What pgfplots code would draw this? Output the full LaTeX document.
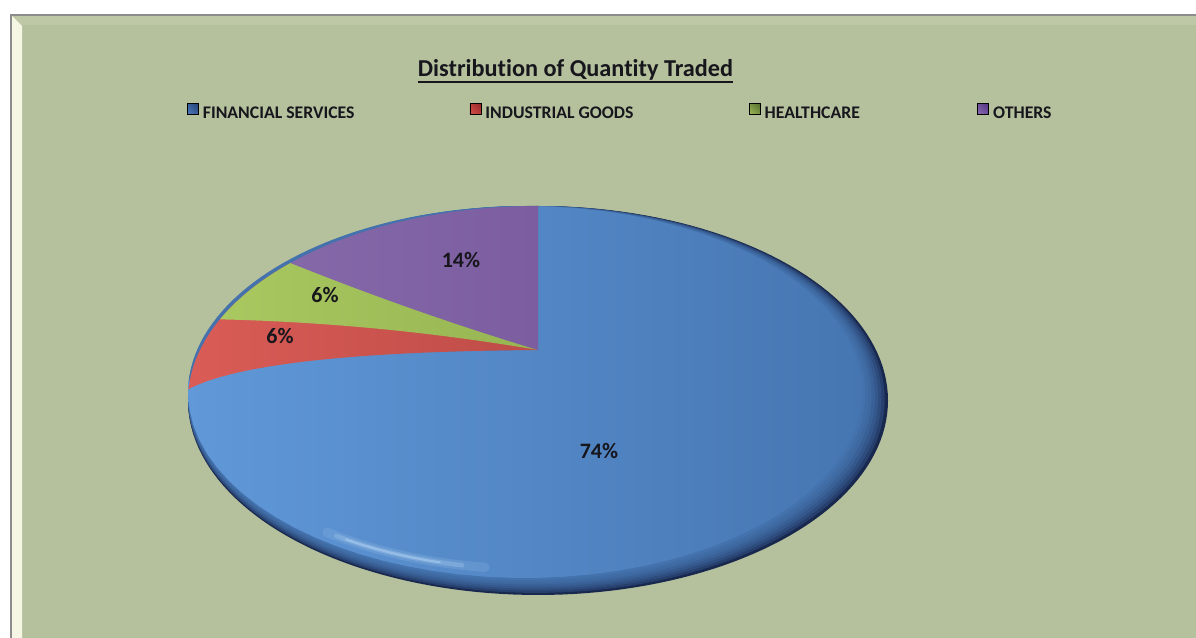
\documentclass[border=0pt]{standalone}
\usepackage{pgfplots}
\pgfplotsset{compat=1.18}
\usepackage{pgfplotstable}
\usetikzlibrary{shadings}
\usepackage{fontspec}
\setmainfont{Carlito}[Ligatures=NoCommon]

\definecolor{bg}{RGB}{181,192,157}
\definecolor{bgtop}{RGB}{190,200,167}
\definecolor{cream}{RGB}{246,246,228}
\definecolor{frame}{RGB}{140,140,140}
\definecolor{rim0}{RGB}{24,40,78}
\definecolor{blueL}{RGB}{96,152,216}
\definecolor{blueR}{RGB}{70,118,178}
\definecolor{hilite}{RGB}{205,232,255}
\definecolor{redL}{RGB}{218,92,86}
\definecolor{redR}{RGB}{190,76,72}
\definecolor{greenL}{RGB}{170,200,96}
\definecolor{greenR}{RGB}{150,180,82}
\definecolor{purpL}{RGB}{132,104,168}
\definecolor{purpR}{RGB}{124,94,160}
\definecolor{txt}{RGB}{22,22,28}
\definecolor{lgB1}{RGB}{80,125,190}\definecolor{lgB2}{RGB}{35,65,120}
\definecolor{lgR1}{RGB}{215,80,75}\definecolor{lgR2}{RGB}{150,40,40}
\definecolor{lgG1}{RGB}{160,190,90}\definecolor{lgG2}{RGB}{85,110,45}
\definecolor{lgP1}{RGB}{140,110,180}\definecolor{lgP2}{RGB}{80,50,130}

% shares (%) of quantity traded
\pgfplotstableread{
name value
FS 74
IG 6
HC 6
OT 14
}\piedata
\pgfplotstablegetelem{0}{value}\of\piedata \let\vFS\pgfplotsretval
\pgfplotstablegetelem{1}{value}\of\piedata \let\vIG\pgfplotsretval
\pgfplotstablegetelem{2}{value}\of\piedata \let\vHC\pgfplotsretval
\pgfplotstablegetelem{3}{value}\of\piedata \let\vOT\pgfplotsretval

% cumulative shares counter-clockwise from 12 o'clock, with perspective mapping to ellipse angle
\pgfmathsetmacro\cA{\vOT}
\pgfmathsetmacro\cB{\vOT+\vHC}
\pgfmathsetmacro\cC{\vOT+\vHC+\vIG}
\pgfmathsetmacro\tA{90+3.6*\cA-7*sin(3.6*\cA)}
\pgfmathsetmacro\tB{90+3.6*\cB-7*sin(3.6*\cB)}
\pgfmathsetmacro\tC{90+3.6*\cC-7*sin(3.6*\cC)}

% slice: ellipse (cx,cy,rx,ry), arc t1->t2, then quadratic curve to vertex (538,-350) with control (qx,qy)
\newcommand{\pieslice}[9]{%
  \addplot[#9, forget plot, domain=0:2, samples=121, variable=\s]
  ({\s<1.00001 ? (#1)+(#3)*cos((#5)+((#6)-(#5))*\s) : (2-\s)^2*((#1)+(#3)*cos(#6)) + 2*(2-\s)*(\s-1)*(#7) + (\s-1)^2*538},
   {\s<1.00001 ? (#2)+(#4)*sin((#5)+((#6)-(#5))*\s) : (2-\s)^2*((#2)+(#4)*sin(#6)) + 2*(2-\s)*(\s-1)*(#8) + (\s-1)^2*(-350)});
}
\newcommand{\fullellipse}[5]{%
  \addplot[fill=#5, draw=none, forget plot, domain=0:360, samples=181, variable=\t]
  ({(#1)+(#3)*cos(\t)},{(#2)+(#4)*sin(\t)});
}
\newcommand{\lgsq}[2]{\shade[lower left=#1, upper right=#2, lower right=#1!50!#2, upper left=#1!50!#2] (0pt,-0.7pt) rectangle (8.2pt,7.5pt);}

\begin{document}
\begin{tikzpicture}
\begin{axis}[
  scale only axis, width=897pt, height=478.5pt,
  xmin=0, xmax=1196, ymin=-638, ymax=0,
  hide axis, clip=true,
  legend columns=4,
  legend cell align=left,
  legend style={at={(0.1564,0.8245)}, anchor=west, draw=none, fill=none,
    inner sep=0pt, outer sep=0pt,
    nodes={inner sep=0pt, text=txt},
    font=\bfseries\fontsize{13.3}{16}\selectfont,
    /tikz/every odd column/.append style={column sep=3.3pt},
    /tikz/every even column/.append style={column sep=0pt}},
]
% background and frame
\fill[white] (axis cs:0,0) rectangle (axis cs:1196,-638);
\fill[bg] (axis cs:11,-15) rectangle (axis cs:1196,-638);
\fill[bgtop] (axis cs:12,-16) -- (axis cs:1196,-16) -- (axis cs:1196,-25) -- (axis cs:22,-25) -- cycle;
\fill[cream] (axis cs:12,-16) -- (axis cs:22,-26) -- (axis cs:22,-638) -- (axis cs:12,-638) -- cycle;
\draw[frame, line width=1.5pt] (axis cs:1196,-15) -- (axis cs:11,-15) -- (axis cs:11,-638);

% legend entries
\addlegendimage{legend image code/.code={\lgsq{lgB1}{lgB2}}}
\addlegendentry{\makebox[200pt][l]{FINANCIAL SERVICES}}
\addlegendimage{legend image code/.code={\lgsq{lgR1}{lgR2}}}
\addlegendentry{\makebox[197.5pt][l]{INDUSTRIAL GOODS}}
\addlegendimage{legend image code/.code={\lgsq{lgG1}{lgG2}}}
\addlegendentry{\makebox[159.5pt][l]{HEALTHCARE}}
\addlegendimage{legend image code/.code={\lgsq{lgP1}{lgP2}}}
\addlegendentry{OTHERS}

% 3D rim of the pie (soft dark edge)
\fullellipse{538}{-400.5}{350}{194.5}{rim0}
\fullellipse{536.375}{-399.44}{348.375}{193.44}{blueR!30!rim0}
\fullellipse{534.75}{-398.375}{346.75}{192.375}{blueR!48!rim0}
\fullellipse{533.125}{-397.31}{345.125}{191.31}{blueR!62!rim0}
\fullellipse{531.5}{-396.25}{343.5}{190.25}{blueR!73!rim0}
\fullellipse{529.875}{-395.19}{341.875}{189.19}{blueR!82!rim0}
\fullellipse{528.25}{-394.125}{340.25}{188.125}{blueR!89!rim0}
\fullellipse{526.625}{-393.06}{338.625}{187.06}{blueR!95!rim0}

% FINANCIAL SERVICES (rest of the pie, clockwise from top)
\pieslice{525}{-392}{337}{186}{450}{\tC}{260}{-352}{draw=none, left color=blueL, right color=blueR}
% soft highlight on lower left edge
\addplot[draw=hilite, opacity=0.12, line width=7pt, line cap=round, forget plot, domain=232:262, samples=40, variable=\t]
  ({531+331*cos(\t)},{-396+173*sin(\t)});
\addplot[draw=hilite, opacity=0.22, line width=3.5pt, line cap=round, forget plot, domain=234:258, samples=40, variable=\t]
  ({531+331*cos(\t)},{-396+173*sin(\t)});
\addplot[draw=hilite, opacity=0.35, line width=1.5pt, line cap=round, forget plot, domain=236:254, samples=40, variable=\t]
  ({531+331*cos(\t)},{-396+173*sin(\t)});
% INDUSTRIAL GOODS (drawn generously, covered by the next slices)
\pieslice{538}{-400.5}{350}{194.5}{\tA}{\tC}{260}{-352}{draw=none, left color=redL, right color=redR}
% HEALTHCARE
\pieslice{538}{-400.5}{350}{194.5}{\tA}{\tB}{379}{-323}{draw=none, left color=greenL, right color=greenR}
% OTHERS
\pieslice{538}{-400.5}{350}{194.5}{90}{\tA}{414}{-312.5}{draw=none, left color=purpL, right color=purpR}

% title
\node (T) [anchor=base, inner sep=0pt, text=txt] at (axis cs:575.5,-77)
  {\fontsize{18.2}{22}\selectfont\bfseries Distribution of Quantity Traded};
\draw[txt, line width=1.3pt] ([yshift=-3.9pt]T.base west) -- ([yshift=-3.9pt]T.base east);

% data labels
\tikzset{lbl/.style={inner sep=0pt, text=txt, font=\bfseries\fontsize{16.5}{19}\selectfont}}
\node[lbl] at (axis cs:599,-451.5) {\vFS\%};
\node[lbl] at (axis cs:461,-260.5) {\vOT\%};
\node[lbl] at (axis cs:325,-295) {\vHC\%};
\node[lbl] at (axis cs:280,-336) {\vIG\%};
\end{axis}
\end{tikzpicture}
\end{document}
